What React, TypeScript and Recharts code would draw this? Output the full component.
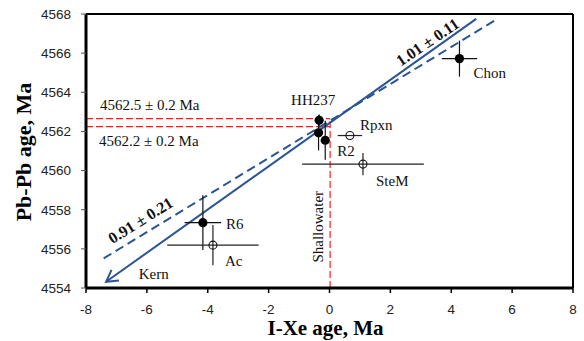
import React from 'react';
import { ComposedChart, Scatter, XAxis, YAxis, ErrorBar, ReferenceLine, ReferenceDot } from 'recharts';

// ---- data ----
const xTicks = [-8, -6, -4, -2, 0, 2, 4, 6, 8];
const yTicks = [4554, 4556, 4558, 4560, 4562, 4564, 4566, 4568];

const filledNames = ['HH237', '', 'R2', 'Chon', 'R6'];
const filledIXe = [-0.34, -0.36, -0.14, 4.27, -4.16];
const filledPbPb = [4562.57, 4561.93, 4561.55, 4565.72, 4557.34];
const filledErrX = [0, 0, 0, 0.58, 0.6];
const filledErrY = [0.3, 0.9, 1.0, 0.92, 1.4];

const openNames = ['Rpxn', 'SteM', 'Ac'];
const openIXe = [0.67, 1.1, -3.83];
const openPbPb = [4561.79, 4560.33, 4556.19];
const openErrX = [0.4, 2.0, 1.5];
const openErrY = [0, 0.57, 1.03];

const solidFitX = [-7.34, 4.82];
const solidFitY = [4554.32, 4567.75];
const dashedFitX = [-7.42, 5.42];
const dashedFitY = [4555.51, 4567.66];

const shallowaterHigh = 4562.65;
const shallowaterLow = 4562.25;
const shallowaterX = 0.02;

const noteTexts = ['Kern', '4562.5 \u00b1 0.2 Ma', '4562.2 \u00b1 0.2 Ma', 'Shallowater', '1.01 \u00b1 0.11', '0.91 \u00b1 0.21'];
const noteX = [-6.27, -7.54, -7.57, -0.2, 3.22, -6.21];
const noteY = [4554.46, 4563.11, 4561.28, 4557.13, 4566.57, 4557.46];

// ---- build tables ----
const filledData = filledNames.map((name, i) => ({ name, x: filledIXe[i], y: filledPbPb[i], ex: filledErrX[i], ey: filledErrY[i] }));
const openData = openNames.map((name, i) => ({ name, x: openIXe[i], y: openPbPb[i], ex: openErrX[i], ey: openErrY[i] }));

// ---- styles ----
const SERIF = "'Liberation Serif', 'Times New Roman', Times, serif";
const SANS = "'Liberation Sans', Arial, sans-serif";
const BLUE = '#2B5592';
const RED = '#FF1A1A';

const labelOffsets: Record<string, { dx: number; dy: number; anchor: string }> = {
  HH237: { dx: -6, dy: -15, anchor: 'middle' },
  Rpxn: { dx: 10, dy: -6, anchor: 'start' },
  R2: { dx: 12, dy: 16, anchor: 'start' },
  SteM: { dx: 13, dy: 22, anchor: 'start' },
  Chon: { dx: 14, dy: 19, anchor: 'start' },
  R6: { dx: 23, dy: 6, anchor: 'start' },
  Ac: { dx: 12, dy: 21, anchor: 'start' },
};

const noteStyle: { anchor: string; rotate: number; bold: boolean; size: number; baseline?: string }[] = [
  { anchor: 'start', rotate: 0, bold: false, size: 15 },
  { anchor: 'start', rotate: 0, bold: false, size: 15 },
  { anchor: 'start', rotate: 0, bold: false, size: 15 },
  { anchor: 'middle', rotate: -90, bold: false, size: 15 },
  { anchor: 'middle', rotate: -34, bold: true, size: 16, baseline: 'central' },
  { anchor: 'middle', rotate: -32, bold: true, size: 16, baseline: 'central' },
];

const serifStyle = (size: number, bold = false) => ({ fontFamily: SERIF, fontSize: size, fontWeight: bold ? 700 : 400 });

const PointShape = (open: boolean) => (p: any) => {
  const { cx, cy, payload } = p;
  const off = labelOffsets[payload.name];
  return (
    <g>
      {open ? (
        <circle cx={cx} cy={cy} r={4} fill="none" stroke="#111" strokeWidth={1.1} />
      ) : (
        <circle cx={cx} cy={cy} r={4.6} fill="#000" />
      )}
      {off && payload.name ? (
        <text x={cx + off.dx} y={cy + off.dy} textAnchor={off.anchor} style={serifStyle(15)} fill="#111">
          {payload.name}
        </text>
      ) : null}
    </g>
  );
};

const ArrowLine = (p: any) => {
  const { x1, y1, x2, y2 } = p;
  const ang = Math.atan2(y2 - y1, x2 - x1);
  const len = 13;
  const spread = Math.PI / 6;
  const ax1 = x1 + len * Math.cos(ang + spread);
  const ay1 = y1 + len * Math.sin(ang + spread);
  const ax2 = x1 + len * Math.cos(ang - spread);
  const ay2 = y1 + len * Math.sin(ang - spread);
  return (
    <g>
      <line x1={x1} y1={y1} x2={x2} y2={y2} stroke={BLUE} strokeWidth={2} />
      <polyline points={`${ax1},${ay1} ${x1},${y1} ${ax2},${ay2}`} fill="none" stroke={BLUE} strokeWidth={2} />
    </g>
  );
};

const NoteLabel = (i: number) => (props: any) => {
  const vb = props.viewBox || {};
  const cx = (vb.x ?? 0) + (vb.width ?? 0) / 2;
  const cy = (vb.y ?? 0) + (vb.height ?? 0) / 2;
  const s = noteStyle[i];
  return (
    <text
      x={cx}
      y={cy}
      textAnchor={s.anchor}
      dominantBaseline={s.baseline}
      transform={s.rotate ? `rotate(${s.rotate}, ${cx}, ${cy})` : undefined}
      style={serifStyle(s.size, s.bold)}
      fill="#111"
    >
      {noteTexts[i]}
    </text>
  );
};

const XTitle = (props: any) => {
  const vb = props.viewBox;
  return (
    <text x={vb.x + vb.width / 2 - 4} y={vb.y + 47} textAnchor="middle" style={serifStyle(21, true)} fill="#000">
      I-Xe age, Ma
    </text>
  );
};

const YTitle = (props: any) => {
  const vb = props.viewBox;
  const cx = 31;
  const cy = vb.y + vb.height / 2 + 1;
  return (
    <text x={cx} y={cy} textAnchor="middle" transform={`rotate(-90, ${cx}, ${cy})`} style={serifStyle(22, true)} fill="#000">
      Pb-Pb age, Ma
    </text>
  );
};

export default function App() {
  return (
    <div style={{ position: 'absolute', left: 0, top: 0, width: 584, height: 341, background: '#fff' }}>
      <ComposedChart width={584} height={341} margin={{ top: 14, right: 11, bottom: 0, left: 0 }}>
        <XAxis
          type="number"
          dataKey="x"
          domain={[-8, 8]}
          ticks={xTicks}
          allowDataOverflow
          height={53}
          axisLine={{ stroke: '#000', strokeWidth: 3 }}
          tickLine={{ stroke: '#000', strokeWidth: 1.5 }}
          tickSize={5}
          tickMargin={11}
          tick={{ fontFamily: SANS, fontSize: 13.5, fill: '#222' }}
          label={<XTitle />}
        />
        <YAxis
          type="number"
          dataKey="y"
          domain={[4554, 4568]}
          ticks={yTicks}
          allowDataOverflow
          width={86}
          axisLine={{ stroke: '#000', strokeWidth: 3 }}
          tickLine={{ stroke: '#555', strokeWidth: 1 }}
          tickSize={5}
          tickMargin={10}
          tick={{ fontFamily: SANS, fontSize: 13.5, fill: '#222' }}
          label={<YTitle />}
        />
        <ReferenceLine y={4568} stroke="#000" strokeWidth={2} ifOverflow="visible" />
        <ReferenceLine x={8} stroke="#000" strokeWidth={2} ifOverflow="visible" />

        <ReferenceLine
          segment={[{ x: -8, y: shallowaterHigh }, { x: shallowaterX, y: shallowaterHigh }]}
          stroke={RED}
          strokeWidth={1.2}
          strokeDasharray="7 3"
          ifOverflow="visible"
        />
        <ReferenceLine
          segment={[{ x: -8, y: shallowaterLow }, { x: shallowaterX, y: shallowaterLow }]}
          stroke={RED}
          strokeWidth={1.2}
          strokeDasharray="7 3"
          ifOverflow="visible"
        />
        <ReferenceLine
          segment={[{ x: shallowaterX, y: 4554 }, { x: shallowaterX, y: shallowaterHigh }]}
          stroke={RED}
          strokeWidth={1.2}
          strokeDasharray="7 3"
          ifOverflow="visible"
        />

        <ReferenceLine
          segment={[{ x: dashedFitX[0], y: dashedFitY[0] }, { x: dashedFitX[1], y: dashedFitY[1] }]}
          stroke={BLUE}
          strokeWidth={2}
          strokeDasharray="9 5"
          ifOverflow="visible"
        />
        <ReferenceLine
          segment={[{ x: solidFitX[0], y: solidFitY[0] }, { x: solidFitX[1], y: solidFitY[1] }]}
          shape={ArrowLine}
          ifOverflow="visible"
        />

        <Scatter data={filledData} isAnimationActive={false} shape={PointShape(false)}>
          <ErrorBar dataKey="ex" direction="x" width={0} stroke="#111" strokeWidth={1.2} />
          <ErrorBar dataKey="ey" direction="y" width={0} stroke="#111" strokeWidth={1.2} />
        </Scatter>
        <Scatter data={openData} isAnimationActive={false} shape={PointShape(true)}>
          <ErrorBar dataKey="ex" direction="x" width={0} stroke="#222" strokeWidth={1.2} />
          <ErrorBar dataKey="ey" direction="y" width={0} stroke="#222" strokeWidth={1.2} />
        </Scatter>

        {noteTexts.map((t, i) => (
          <ReferenceDot
            key={t}
            x={noteX[i]}
            y={noteY[i]}
            r={0}
            fill="none"
            stroke="none"
            ifOverflow="visible"
            label={NoteLabel(i)}
          />
        ))}
      </ComposedChart>
    </div>
  );
}
